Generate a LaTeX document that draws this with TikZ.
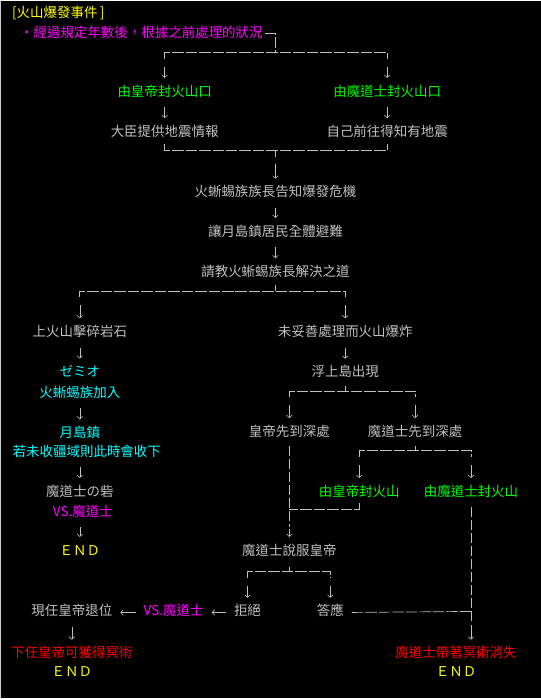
\documentclass[tikz,border=0pt]{standalone}
\usepackage{fontspec}
\setmainfont{Noto Sans CJK TC}
\usepackage{tikz}
\usetikzlibrary{arrows.meta,positioning}
\definecolor{lgray}{HTML}{C0C0C0}
\definecolor{grn}{HTML}{00FF00}
\definecolor{mgt}{HTML}{FF00FF}
\definecolor{cyn}{HTML}{00FFFF}
\definecolor{ylw}{HTML}{FFFF00}
\definecolor{rd}{HTML}{FF0000}

\begin{document}
\begin{tikzpicture}[x=1pt,y=-1pt,node distance=27pt,every node/.style={inner sep=0pt,text height=10pt,text depth=3pt,font=\fontsize{13.5}{15}\selectfont,text=lgray},dline/.style={draw=lgray,line width=0.7pt,dash pattern=on 11.5pt off 2pt},vline/.style={draw=lgray,line width=0.7pt,dash pattern=on 10pt off 3pt},arr/.style={draw=lgray,line width=0.6pt,-{Straight Barb[length=2.5pt,width=5.5pt]},shorten <=8pt,shorten >=8pt}]
\fill[black] (0,0) rectangle (542,699);
\draw[lgray!80,line width=1.5pt] (0.75,0) -- (0.75,699);
\useasboundingbox (0,0) rectangle (542,699);
% header
\node[text=ylw,anchor=west] (title) at (12,13) {[火山爆發事件\,]};
\node[text=mgt,anchor=west] (cond) at (20,33) {・經過規定年數後，根據之前處理的狀況};
% first split
\node[text=grn] (empseal1) at (165,92) {由皇帝封火山口};
\node[text=grn] (magseal1) at (388,92) {由魔道士封火山口};
\node[below=of empseal1] (info) {大臣提供地震情報};
\node[below=of magseal1] (self) {自己前往得知有地震};
\node (warn) at (276,193) {火蜥蜴族族長告知爆發危機};
\node[below=26pt of warn] (evac) {讓月島鎮居民全體避難};
\node[below=of evac] (ask) {請教火蜥蜴族長解決之道};
% left branch
\node (rock) at (80,333) {上火山擊碎岩石};
\node[text=cyn,below=of rock] (zemio) {ゼミオ};
\node[text=cyn,below=7pt of zemio] (join) {火蜥蜴族加入};
\node[text=cyn,below=of join] (town) {月島鎮};
\node[text=cyn] (take) at (87,453) {若未收疆域則此時會收下};
\node (fort) at (80,493) {魔道士の砦};
\node[text=mgt] (vs1) at (83,513) {VS.魔道士};
\node[text=ylw] (end1) at (80,552) {ＥＮＤ};
% right branch
\node (boom) at (346,333) {未妥善處理而火山爆炸};
\node[below=of boom] (float) {浮上島出現};
\node (empdeep) at (290,433) {皇帝先到深處};
\node (magdeep) at (416,433) {魔道士先到深處};
\node[text=grn] (empseal2) at (360,493) {由皇帝封火山};
\node[text=grn] (magseal2) at (472,493) {由魔道士封火山};
\node (persuade) at (290,552) {魔道士說服皇帝};
\node (refuse) at (248,613) {拒絕};
\node (accept) at (331,613) {答應};
\node[text=mgt] (vs2) at (174,613) {VS.魔道士};
\node (abdic) at (72,613) {現任皇帝退位};
\node[text=rd] (heir) at (72,655) {下任皇帝可獲得冥術};
\node[text=ylw] (end2) at (72,674) {ＥＮＤ};
\node[text=rd] (vanish) at (457,655) {魔道士帶著冥術消失};
\node[text=ylw] (end3) at (457,674) {ＥＮＤ};
% junction points
\coordinate (tJ) at (276,52);
\coordinate (tL) at (165,52);
\coordinate (tR) at (388,52);
\coordinate (mJ) at (276,150);
\coordinate (mL) at (165,150);
\coordinate (mR) at (388,150);
\coordinate (sJ) at (276,291);
\coordinate (sL) at (80,291);
\coordinate (sR) at (346,291);
\coordinate (fJ) at (346,391);
\coordinate (fL) at (290,391);
\coordinate (fR) at (416,391);
\coordinate (gJ) at (416,451);
\coordinate (gL) at (360,451);
\coordinate (gR) at (472,451);
\coordinate (eJ) at (290,510);
\coordinate (eB) at (290,527);
\coordinate (pJ) at (290,572);
\coordinate (pL) at (248,572);
\coordinate (pR) at (331,572);
\coordinate (aJ) at (472,612);
\coordinate (gB) at (472,622);
% brackets
\draw[dline] ([xshift=2pt]cond.east) -| (tJ);
\draw[dline] (tL) ++(0,6) -- ++(0,-6) -- (tR) -- ++(0,6);
\draw[dline] (mL) ++(0,-6) -- ++(0,6) -- (mR) -- ++(0,-6);
\draw[dline] (mJ) -- ++(0,7);
\draw[dline] (sJ) ++(0,-6) -- ++(0,6);
\draw[dline] (sL) ++(0,6) -- ++(0,-6) -- (sR) -- ++(0,6);
\draw[dline] (fJ) ++(0,-5) -- ++(0,5);
\draw[dline] (fL) ++(0,6) -- ++(0,-6) -- (fR) -- ++(0,6);
\draw[dline] (gJ) ++(0,-5) -- ++(0,5);
\draw[dline] (gL) ++(0,6) -- ++(0,-6) -- (gR) -- ++(0,6);
\draw[vline] (empdeep.south) ++(0,7) -- (eB);
\draw[dline] (empseal2.south) ++(0,4) -- (empseal2.south |- eJ) -- (eJ);
\draw[vline] (magseal2.south) ++(0,8) -- (gB);
\draw[dline] (pJ) ++(0,-5) -- ++(0,5);
\draw[dline] (pL) ++(0,6) -- ++(0,-6) -- (pR) -- ++(0,6);
\draw[dline] (accept.east) ++(8,0) -- (aJ);
% arrows
\draw[arr,shorten <=0pt] (tL) ++(0,14) -- (empseal1);
\draw[arr,shorten <=0pt] (tR) ++(0,14) -- (magseal1);
\draw[arr] (empseal1) -- (info);
\draw[arr] (magseal1) -- (self);
\draw[arr,shorten <=0pt] (mJ) ++(0,14) -- (warn);
\draw[arr] (warn) -- (evac);
\draw[arr] (evac) -- (ask);
\draw[arr,shorten <=0pt] (sL) ++(0,14) -- (rock);
\draw[arr,shorten <=0pt] (sR) ++(0,14) -- (boom);
\draw[arr] (rock) -- (zemio);
\draw[arr] (join) -- (town);
\draw[arr] (take.south -| fort.north) -- (fort.north);
\draw[arr] (vs1.south -| end1.north) -- (end1.north);
\draw[arr] (boom) -- (float);
\draw[arr,shorten <=0pt] (fL) ++(0,14) -- (empdeep);
\draw[arr,shorten <=0pt] (fR) ++(0,14) -- (magdeep);
\draw[arr,shorten <=0pt] (gL) ++(0,14) -- (empseal2);
\draw[arr,shorten <=0pt] (gR) ++(0,14) -- (magseal2);
\draw[arr,shorten <=0pt] (eB) ++(0,2) -- (persuade);
\draw[arr,shorten <=0pt] (pL) ++(0,14) -- (refuse);
\draw[arr,shorten <=0pt] (pR) ++(0,14) -- (accept);
\draw[arr] (refuse) -- (vs2);
\draw[arr] (vs2) -- (abdic);
\draw[arr] (abdic) -- (heir);
\draw[arr,shorten <=0pt] (gB) ++(0,4) -- (vanish.north -| gB);
\end{tikzpicture}
\end{document}
